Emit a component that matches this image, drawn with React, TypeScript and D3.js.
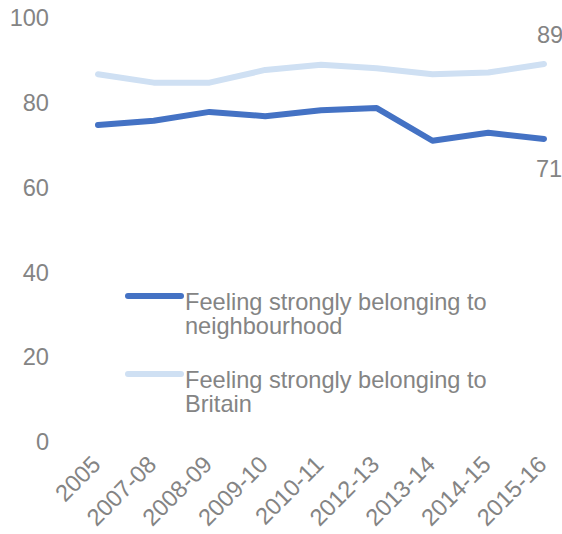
import React from "react";
import * as d3 from "d3";

const categories = ["2005", "2007-08", "2008-09", "2009-10", "2010-11", "2012-13", "2013-14", "2014-15", "2015-16"];
const neighbourhood = [74.7, 75.7, 77.8, 76.8, 78.2, 78.7, 71.0, 72.9, 71.4];
const britain = [86.7, 84.7, 84.7, 87.7, 88.9, 88.1, 86.7, 87.1, 89.1];
const yTicks = [0, 20, 40, 60, 80, 100];
const seriesNames = ["Feeling strongly belonging to neighbourhood", "Feeling strongly belonging to Britain"];
const legendLines = [["Feeling strongly belonging to", "neighbourhood"], ["Feeling strongly belonging to", "Britain"]];
const endLabels = ["71", "89"];

const W = 562, H = 534;
const FONT = "'Liberation Sans', Arial, sans-serif";
const GREY = "#848484";
const COLORS = ["#4472C4", "#CFE0F3"];
const FS = 23.6;

export default function App() {
  const x = d3.scalePoint<string>().domain(categories).range([98, 544]);
  const y = d3.scaleLinear().domain([0, 100]).range([441.7, 17.8]);
  const line = d3
    .line<number>()
    .x((_, i) => x(categories[i]) as number)
    .y((d) => y(d));
  const series = [neighbourhood, britain];
  const n = categories.length;

  return (
    <svg width={W} height={H} style={{ position: "absolute", left: 0, top: 0, background: "#fff" }} fontFamily={FONT}>
      {yTicks.map((t) => (
        <text key={t} x={49} y={y(t) + 8.5} textAnchor="end" fontSize={FS} fill={GREY}>
          {t}
        </text>
      ))}
      {categories.map((c) => (
        <text
          key={c}
          transform={`translate(${(x(c) as number) + 4},${466}) rotate(-45)`}
          textAnchor="end"
          fontSize={FS}
          fill={GREY}
        >
          {c}
        </text>
      ))}
      {[1, 0].map((si) => (
        <path
          key={seriesNames[si]}
          d={line(series[si]) || ""}
          fill="none"
          stroke={COLORS[si]}
          strokeWidth={6}
          strokeLinecap="round"
          strokeLinejoin="round"
        />
      ))}
      <text x={549} y={y(neighbourhood[n - 1]) + 38} textAnchor="middle" fontSize={FS} fill={GREY}>
        {endLabels[0]}
      </text>
      <text x={550} y={y(britain[n - 1]) - 21} textAnchor="middle" fontSize={FS} fill={GREY}>
        {endLabels[1]}
      </text>
      {legendLines.map((ls, i) => {
        const ly = 296 + i * 78;
        return (
          <g key={i}>
            <line x1={128} x2={181} y1={ly} y2={ly} stroke={COLORS[i]} strokeWidth={6} strokeLinecap="round" />
            {ls.map((t, j) => (
              <text key={j} x={185} y={ly + 13.5 + j * 24} fontSize={FS} fill={GREY}>
                {t}
              </text>
            ))}
          </g>
        );
      })}
    </svg>
  );
}
